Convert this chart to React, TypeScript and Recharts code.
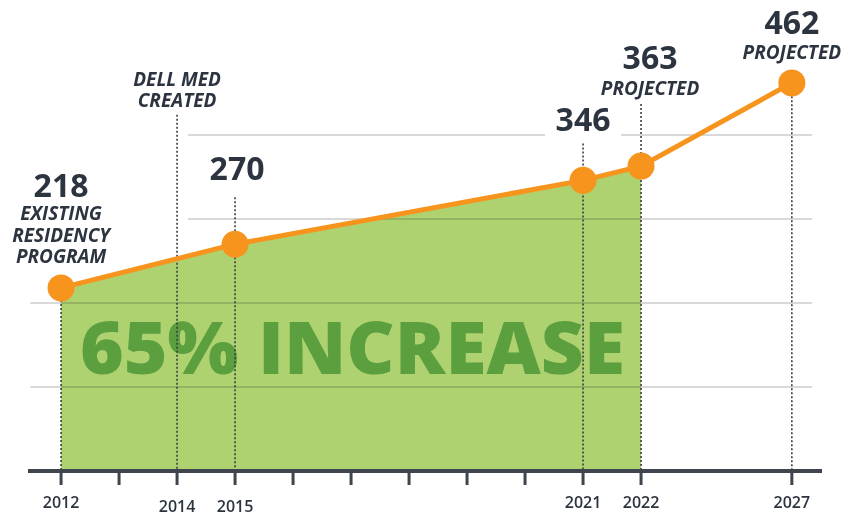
import React from "react";
import {
  ComposedChart,
  Area,
  Line,
  XAxis,
  YAxis,
  ReferenceLine,
  LabelList,
} from "recharts";

// residents by year (2027 and 2022 are projections)
const years = [2012, 2015, 2021, 2022, 2027];
const residents = [218, 270, 346, 363, 462];
const shadedYears = [2012, 2015, 2021, 2022];
const notes = [["EXISTING", "RESIDENCY", "PROGRAM"], [], [], ["PROJECTED"], ["PROJECTED"]];

// axis
const axisYears = [2012, 2013, 2014, 2015, 2016, 2017, 2018, 2019, 2020, 2021, 2022, 2027];
const labelledYears = [2012, 2014, 2015, 2021, 2022, 2027];
const gridValues = [100, 200, 300, 400];

// dotted guides dropping to the axis
const guideYears = [2012, 2014, 2015, 2021, 2022, 2027];
const guideTops = [218, 424, 326, 390, 437, 446];
const milestone = ["DELL MED", "CREATED"];
const headline = "65% INCREASE";

const ORANGE = "#f7941d";
const GREEN = "#afd271";
const DARK = "#2c3440";
const FONT = "'Open Sans', Lato, sans-serif";

// axis is broken after 2022: 2027 sits 2.6 years' width past 2022
const slot = (y: number) => (y <= 2022 ? y - 2012 : 10 + (y - 2022) * 0.52);

const data = years.map((y, i) => ({
  x: slot(y),
  total: residents[i],
  shaded: shadedYears.includes(y) ? residents[i] : null,
}));

// pixel offsets of each annotation from its dot
const labelLayout = [
  { dx: 0, numDy: -102, noteDy: -74 },
  { dx: 2, numDy: -75, noteDy: 0 },
  { dx: 0, numDy: -60, noteDy: 0 },
  { dx: 9, numDy: -108, noteDy: -78 },
  { dx: 0, numDy: -60, noteDy: -30 },
];

const PointLabel = (props: any) => {
  const { x, y, index, value } = props;
  const l = labelLayout[index];
  const cx = x + l.dx;
  const lines: string[] = notes[index];
  return (
    <g>
      {index === 2 && <rect x={cx - 38} y={y + l.numDy - 18} width={76} height={36} fill="#fff" />}
      <text x={cx} y={y + l.numDy + 11} textAnchor="middle" fontFamily={FONT} fontWeight={700} fontSize={32} fill={DARK}>
        {value}
      </text>
      {lines.map((t, i) => (
        <text
          key={t}
          x={cx}
          y={y + l.noteDy + i * 21.5 + 6.5}
          textAnchor="middle"
          fontFamily={FONT}
          fontStyle="italic"
          fontWeight={700}
          fontSize={19}
          fill={DARK}
        >
          {t}
        </text>
      ))}
    </g>
  );
};

const MilestoneLabel = (props: any) => {
  const { viewBox } = props;
  return (
    <g>
      {milestone.map((t, i) => (
        <text
          key={t}
          x={viewBox.x}
          y={viewBox.y - 35 + i * 21 + 6.5}
          textAnchor="middle"
          fontFamily={FONT}
          fontStyle="italic"
          fontWeight={700}
          fontSize={19}
          fill={DARK}
        >
          {t}
        </text>
      ))}
    </g>
  );
};

const Headline = () => (
  <text x={80} y={374} textLength={545} lengthAdjust="spacingAndGlyphs" fontFamily={FONT} fontWeight={800} fontSize={73} fill="#5b9f3f">
    {headline}
  </text>
);

const YearTick = (props: any) => {
  const { x, y, payload } = props;
  const year = axisYears.find((a) => slot(a) === payload.value);
  if (!year || !labelledYears.includes(year)) return null;
  const low = year === 2014 || year === 2015 ? 4 : 0;
  return (
    <text x={x} y={y + 21 + low} textAnchor="middle" fontFamily={FONT} fontWeight={600} fontSize={16} fill={DARK}>
      {year}
    </text>
  );
};

export default function App() {
  return (
    <div style={{ position: "absolute", left: 0, top: 0, width: 846, height: 516, background: "#fff" }}>
      <ComposedChart width={846} height={516} data={data} margin={{ top: 51, right: 24, left: 28, bottom: 0 }}>
        <XAxis
          type="number"
          dataKey="x"
          domain={[-0.57, 13.12]}
          allowDataOverflow
          ticks={axisYears.map(slot)}
          interval={0}
          tick={<YearTick />}
          tickSize={14}
          axisLine={{ stroke: "#3f454c", strokeWidth: 4 }}
          tickLine={{ stroke: "#3f454c", strokeWidth: 3 }}
          height={45}
        />
        <YAxis hide type="number" domain={[0, 500]} allowDataOverflow />
        <Area
          type="linear"
          dataKey="shaded"
          fill={GREEN}
          fillOpacity={1}
          stroke="none"
          isAnimationActive={false}
          activeDot={false}
        />
        {gridValues.map((v, i) => (
          <ReferenceLine
            key={`g${v}`}
            segment={[
              { x: v > 200 ? 2.19 : -0.53, y: v },
              { x: 12.95, y: v },
            ]}
            stroke="#cdcdcd"
            strokeWidth={1.5}
            style={{ mixBlendMode: "multiply" }}
            label={i === 0 ? <Headline /> : undefined}
          />
        ))}
        {guideYears.map((y, i) => (
          <ReferenceLine
            key={`d${y}`}
            segment={[
              { x: slot(y), y: guideTops[i] },
              { x: slot(y), y: 0 },
            ]}
            stroke="#3a3f45"
            strokeWidth={1.6}
            strokeDasharray="2 2"
            label={y === 2014 ? <MilestoneLabel /> : undefined}
          />
        ))}
        <Line
          type="linear"
          dataKey="total"
          stroke={ORANGE}
          strokeWidth={5}
          dot={{ r: 13.5, fill: ORANGE, stroke: "none" }}
          activeDot={false}
          isAnimationActive={false}
        >
          <LabelList dataKey="total" content={<PointLabel />} />
        </Line>
      </ComposedChart>
    </div>
  );
}
